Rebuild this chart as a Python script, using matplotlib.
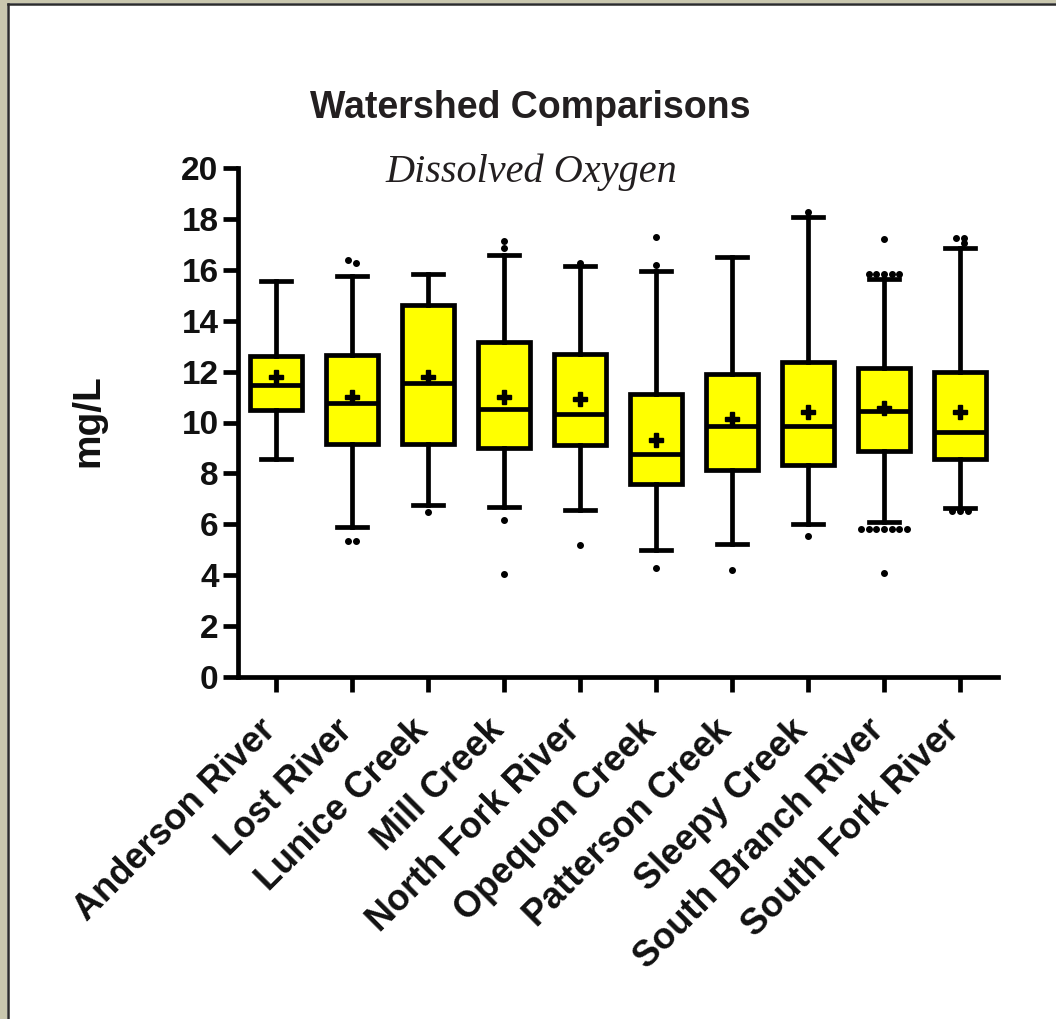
import matplotlib
matplotlib.use('Agg')

import numpy as np
import matplotlib.pyplot as plt
import matplotlib.patches as patches
import matplotlib.transforms as mtransforms

# watershed names (x axis)
sites = ['Anderson River', 'Lost River', 'Lunice Creek', 'Mill Creek',
         'North Fork River', 'Opequon Creek', 'Patterson Creek',
         'Sleepy Creek', 'South Branch River', 'South Fork River']

# dissolved oxygen summary per watershed (mg/L)
whis_lo = [8.55, 5.90, 6.75, 6.68, 6.58, 4.99, 5.21, 6.02, 6.10, 6.65]
q1 = [10.50, 9.16, 9.16, 8.98, 9.13, 7.58, 8.13, 8.33, 8.88, 8.57]
median = [11.47, 10.78, 11.57, 10.54, 10.33, 8.75, 9.85, 9.85, 10.47, 9.64]
q3 = [12.60, 12.67, 14.60, 13.18, 12.71, 11.12, 11.91, 12.37, 12.16, 11.98]
whis_hi = [15.56, 15.74, 15.84, 16.60, 16.16, 15.94, 16.49, 18.07, 15.63, 16.87]
means = [11.80, 11.02, 11.78, 11.02, 10.92, 9.33, 10.15, 10.43, 10.56, 10.40]

# points outside the whiskers
outliers = [
    [],
    [16.40, 16.25, 5.35, 5.35],
    [6.50],
    [17.12, 16.85, 6.16, 4.06],
    [16.25, 5.19],
    [17.30, 16.20, 4.27],
    [4.20],
    [18.28, 5.54],
    [17.20, 15.84, 15.84, 15.84, 15.84, 15.84,
     5.83, 5.83, 5.83, 5.83, 5.83, 5.83, 5.83, 4.10],
    [17.25, 17.25, 17.05, 6.54, 6.54, 6.54],
]

W, H = 1056, 1019
fig = plt.figure(figsize=(W / 100, H / 100), dpi=100)
fig.patch.set_facecolor('white')

# khaki frame on the left and top edges with a dark inner line
khaki = '#c9c7ae'
fig.add_artist(patches.Rectangle((0, 0), 7 / W, 1, transform=fig.transFigure,
                                 facecolor=khaki, edgecolor='none'))
fig.add_artist(patches.Rectangle((0, 1 - 3 / H), 1, 3 / H, transform=fig.transFigure,
                                 facecolor=khaki, edgecolor='none'))
fig.add_artist(plt.Line2D([8 / W, 8 / W], [0, 1 - 4 / H], transform=fig.transFigure,
                          color='#2b2b2b', lw=1.8))
fig.add_artist(plt.Line2D([8 / W, 1], [1 - 4 / H, 1 - 4 / H], transform=fig.transFigure,
                          color='#2b2b2b', lw=1.8))

ax = fig.add_axes([238 / W, 342 / H, 760 / W, 509 / H])

stats = []
for i in range(len(sites)):
    stats.append(dict(med=median[i], q1=q1[i], q3=q3[i], whislo=whis_lo[i],
                      whishi=whis_hi[i], mean=means[i], fliers=[]))

lw = 3.4
ax.bxp(stats, positions=np.arange(len(sites)), widths=0.68, capwidths=0.4,
       showmeans=True, showfliers=False, patch_artist=True,
       boxprops=dict(facecolor='#ffff00', edgecolor='black', linewidth=lw,
                     joinstyle='miter'),
       medianprops=dict(color='black', linewidth=lw),
       whiskerprops=dict(color='black', linewidth=lw),
       capprops=dict(color='black', linewidth=lw),
       meanprops=dict(marker='P', markerfacecolor='black', markeredgecolor='black',
                      markersize=10))

# outliers: values at the same level are spread sideways
for i, vals in enumerate(outliers):
    vals = np.array(vals)
    for level in np.unique(vals):
        grp = vals[vals == level]
        n = len(grp)
        xs = i + (np.arange(n) - (n - 1) / 2) * 0.1
        if n == 1 and np.sum(np.abs(vals - level) < 0.2) > 1:
            xs = xs + (0.05 if level < vals[np.abs(vals - level) < 0.2].max() else -0.05)
        ax.plot(xs, grp, 'o', color='black', markersize=4, zorder=5)

ax.set_xlim(-0.5, 9.5)
ax.set_ylim(0, 20)
ax.set_yticks(np.arange(0, 21, 2))
ax.set_xticks(np.arange(len(sites)))
ax.set_xticklabels(sites, rotation=45, ha='right', rotation_mode='default')

for side in ['top', 'right']:
    ax.spines[side].set_visible(False)
for side in ['left', 'bottom']:
    ax.spines[side].set_linewidth(lw)
    ax.spines[side].set_capstyle('projecting')

ax.tick_params(axis='both', width=lw, length=11, direction='out', color='black')
ax.tick_params(axis='y', pad=3)
ax.tick_params(axis='x', pad=4)
for lab in ax.get_yticklabels():
    lab.set_fontfamily('Liberation Sans')
    lab.set_fontweight('bold')
    lab.set_fontsize(24)
    lab.set_color('#111111')

# slanted site names sit a little right of and below their ticks
shift = mtransforms.ScaledTranslation(7 / 100, -15 / 100, fig.dpi_scale_trans)
for lab in ax.get_xticklabels():
    lab.set_fontfamily('Liberation Sans')
    lab.set_fontweight('bold')
    lab.set_fontsize(26)
    lab.set_color('#111111')
    lab.set_transform(lab.get_transform() + shift)

fig.text(530 / W, 1 - 108 / H, 'Watershed Comparisons', ha='center', va='center',
         fontsize=27, fontweight='bold', family='Liberation Sans', color='#231f20')
fig.text(531 / W, 1 - 172 / H, 'Dissolved Oxygen', ha='center', va='center',
         fontsize=29, style='italic', family='Liberation Serif', color='#231f20')
fig.text(88 / W, 1 - 421 / H, 'mg/L', ha='center', va='center', rotation=90,
         fontsize=28, fontweight='bold', family='Liberation Sans', color='#111111')

fig.savefig('out.png', dpi=100)
